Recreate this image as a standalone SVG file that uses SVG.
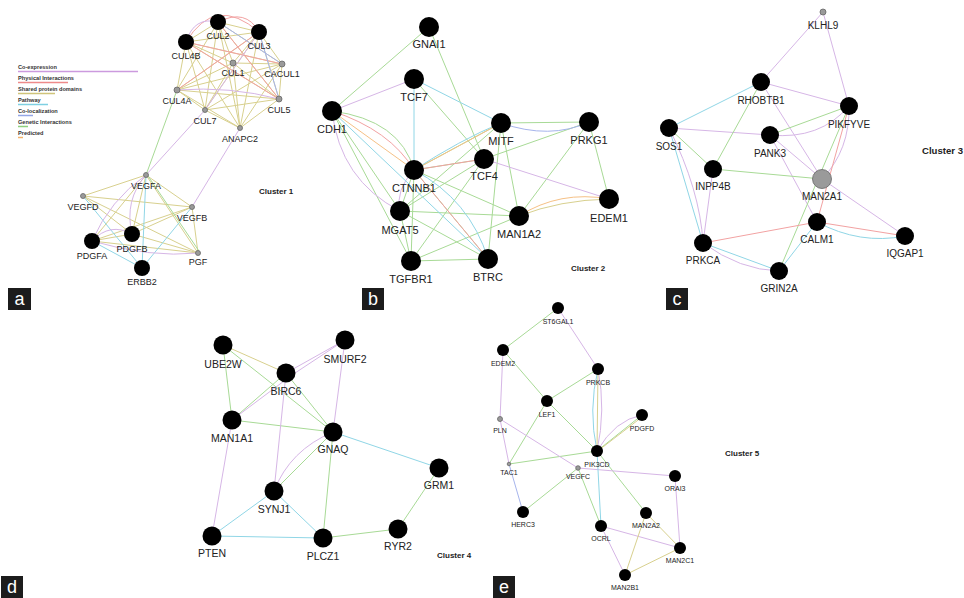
<svg xmlns="http://www.w3.org/2000/svg" width="964" height="598" viewBox="0 0 964 598">
<style>
.e{fill:none;stroke-width:1}
.co{stroke:#d6b6e6}.ph{stroke:#f2a2a2}.sd{stroke:#d8d08e}.pw{stroke:#90d6e6}.cl{stroke:#a6b4ec}.gi{stroke:#a8da96}.pr{stroke:#f6c186}
.nb{fill:#000}
.ng{fill:#9a9a9a;stroke:#666;stroke-width:0.8}
.la{font-family:"Liberation Sans",Arial,sans-serif;fill:#222;text-anchor:middle}
.fa{font-size:9px}.fb{font-size:11px}.fc{font-size:10px}.fd{font-size:10.5px}.fe{font-size:7px}
.cl-t{font-family:"Liberation Sans",Arial,sans-serif;font-weight:bold;font-size:8px;fill:#222}
.lg{font-family:"Liberation Sans",Arial,sans-serif;font-weight:bold;font-size:5.6px;fill:#333}
.box{fill:#1c1c1c}
.bt{font-family:"Liberation Sans",Arial,sans-serif;font-size:18px;fill:#fff;text-anchor:middle}
</style>
<rect width="964" height="598" fill="#fff"/>
<g id="legend">
<text class="lg" x="18" y="69">Co-expression</text><line x1="18" y1="71.5" x2="138" y2="71.5" stroke="#cc9ade" stroke-width="1.5"/>
<text class="lg" x="18" y="80">Physical Interactions</text><line x1="18" y1="82.5" x2="68" y2="82.5" stroke="#ee8a8a" stroke-width="1.5"/>
<text class="lg" x="18" y="91">Shared protein domains</text><line x1="18" y1="93.5" x2="55" y2="93.5" stroke="#cfc47a" stroke-width="1.5"/>
<text class="lg" x="18" y="102">Pathway</text><line x1="18" y1="104.5" x2="48" y2="104.5" stroke="#7fd0e2" stroke-width="1.5"/>
<text class="lg" x="18" y="113">Co-localization</text><line x1="18" y1="115.5" x2="33" y2="115.5" stroke="#94a6e6" stroke-width="1.5"/>
<text class="lg" x="18" y="124">Genetic Interactions</text><line x1="18" y1="126.5" x2="28" y2="126.5" stroke="#8fd07e" stroke-width="1.5"/>
<text class="lg" x="18" y="135">Predicted</text><line x1="18" y1="137.5" x2="23" y2="137.5" stroke="#f4b26a" stroke-width="1.5"/>
</g>
<g id="connectors">
<!-- panel a -->
<path class="e sd" d="M218,22L259,32M218,22L186,42M218,22L233,63M218,22L282,64M218,22L177,90M218,22L279,99M218,22L205,110M218,22L240,128M259,32L186,42M259,32L233,63M259,32L282,64M259,32L177,90M259,32L279,99M259,32L205,110M259,32L240,128M186,42L233,63M186,42L282,64M186,42L177,90M186,42L279,99M186,42L205,110M186,42L240,128M233,63L282,64M233,63L177,90M233,63L279,99M233,63L205,110M233,63L240,128M282,64L177,90M282,64L279,99M282,64L205,110M282,64L240,128M177,90L279,99M177,90L205,110M177,90L240,128M279,99L205,110M279,99L240,128M205,110L240,128"/>
<path class="e ph" d="M186,42Q215,-6 259,32M218,22Q246,8 259,32M186,42L279,99M218,22L279,99M177,90L259,32M186,42L282,64"/>
<path class="e co" d="M186,42Q194,16 218,22M177,90Q230,86 279,99M259,32L205,110M205,110L146,175M240,128L192,207"/>
<path class="e cl" d="M259,32L279,99M218,22L282,64"/>
<path class="e gi" d="M177,90L146,175"/>
<path class="e sd" d="M146,175L83,196M146,175L192,207M146,175L92,241M146,175L132,234M146,175L198,253M83,196L192,207M83,196L198,253M83,196L132,234M192,207L92,241M192,207L132,234M192,207L198,253M92,241L198,253M132,234L198,253M92,241L132,234"/>
<path class="e pw" d="M83,196L142,268M146,175L142,268M192,207L142,268M92,241L142,268"/>
<path class="e gi" d="M148,176L199,251"/>
<path class="e co" d="M146,175Q110,200 92,241M146,175Q124,200 132,234M92,241Q110,222 132,234M92,241Q150,258 198,253"/>
<!-- panel b -->
<path class="e gi" d="M332,111L429,27M429,27L484,159M414,79L484,159M501,123L589,122M589,122L484,159M589,122L519,216M589,122L609,199M332,111L400,211M332,111L411,261M414,170L484,159M414,170L519,216M414,170L488,259M414,170L400,211M414,170L411,261M400,211L519,216M400,211L484,159M400,211L411,261M400,211L488,259M411,261L519,216M411,261L488,259M411,261L484,159M501,123L519,216M501,123L488,259M501,123L400,211M414,170L501,123"/>
<path class="e gi" d="M332,111Q400,120 414,170"/>
<path class="e co" d="M332,111L414,79M484,159L609,199M332,111Q340,180 400,211M414,170Q395,190 400,211"/>
<path class="e pw" d="M414,79L501,123M414,79L414,170M332,111L488,259M414,170Q460,140 501,123M414,170Q470,200 488,259"/>
<path class="e cl" d="M501,123Q550,140 589,122"/>
<path class="e ph" d="M332,111Q390,130 414,170M414,170L484,159M414,170L488,259"/>
<path class="e pr" d="M332,111L414,170M414,170Q470,140 501,123M519,216Q560,190 609,199"/>
<path class="e sd" d="M519,216Q560,200 609,199"/>
<!-- panel c -->
<path class="e co" d="M823,12L761,82M823,12L849,106M761,82L849,106M761,82L822,179M770,135L817,222M770,135L822,179M669,128L770,135M770,135Q820,140 849,106M713,169L703,243M849,106Q850,150 822,179M822,179L905,236M669,128Q700,190 703,243M703,243Q740,270 779,271"/>
<path class="e pw" d="M761,82L669,128M669,128L703,243M817,222L779,271M703,243L779,271M817,222Q860,245 905,236"/>
<path class="e gi" d="M761,82L713,169M770,135L849,106M669,128L713,169M713,169L822,179M849,106L779,271"/>
<path class="e ph" d="M849,106L817,222M817,222L703,243M817,222L905,236"/>
<!-- panel d -->
<path class="e sd" d="M223,345L286,373"/>
<path class="e gi" d="M223,345L232,420M223,345L333,432M286,373L232,420M286,373L333,432M232,420L333,432M333,432L274,491M333,432L323,538M439,468L398,529M398,529L323,538"/>
<path class="e co" d="M345,340L286,373M345,340L289,377M345,340L333,432M232,420L288,378M286,373L274,491M232,420L212,536M333,432Q290,450 274,491"/>
<path class="e pw" d="M333,432L439,468M274,491L212,536M274,491L323,538M212,536L323,538"/>
<!-- panel e -->
<path class="e gi" d="M558,308L503,350M503,350L547,401M598,369L547,401M547,401L597,451M547,401L509,464M509,464L597,451M578,468L523,512M578,468L601,526M597,451L646,513M597,451L642,415"/>
<path class="e co" d="M558,308L598,369M503,350L500,419M500,419L578,468M578,468L675,476M601,526L680,548M601,526L625,575M675,476L680,548M500,419L509,464M598,369Q606,410 597,451M597,451Q615,420 642,415"/>
<path class="e pw" d="M598,369Q588,410 597,451M597,451L601,526"/>
<path class="e sd" d="M598,369L597,451M646,513L680,548M646,513L625,575M625,575L680,548M599,450L642,417"/>
<path class="e cl" d="M509,464L523,512"/>
</g>
<g id="nodes-a">
<g id="n-CUL2"><circle class="nb" cx="218" cy="22" r="8"/><text class="la fa" x="218" y="39">CUL2</text></g>
<g id="n-CUL3"><circle class="nb" cx="259" cy="32" r="8"/><text class="la fa" x="259" y="49">CUL3</text></g>
<g id="n-CUL4B"><circle class="nb" cx="186" cy="42" r="8"/><text class="la fa" x="186" y="59">CUL4B</text></g>
<g id="n-CUL1"><circle class="ng" cx="233" cy="63" r="3"/><text class="la fa" x="233" y="76">CUL1</text></g>
<g id="n-CACUL1"><circle class="ng" cx="282" cy="64" r="3"/><text class="la fa" x="282" y="77">CACUL1</text></g>
<g id="n-CUL4A"><circle class="ng" cx="177" cy="90" r="3"/><text class="la fa" x="177" y="104">CUL4A</text></g>
<g id="n-CUL5"><circle class="ng" cx="279" cy="99" r="3"/><text class="la fa" x="279" y="113">CUL5</text></g>
<g id="n-CUL7"><circle class="ng" cx="205" cy="110" r="2.5"/><text class="la fa" x="205" y="124">CUL7</text></g>
<g id="n-ANAPC2"><circle class="ng" cx="240" cy="128" r="2.5"/><text class="la fa" x="240" y="142">ANAPC2</text></g>
<g id="n-VEGFA"><circle class="ng" cx="146" cy="175" r="2.5"/><text class="la fa" x="146" y="189">VEGFA</text></g>
<g id="n-VEGFD"><circle class="ng" cx="83" cy="196" r="2.5"/><text class="la fa" x="83" y="210">VEGFD</text></g>
<g id="n-VEGFB"><circle class="ng" cx="192" cy="207" r="2.5"/><text class="la fa" x="192" y="221">VEGFB</text></g>
<g id="n-PDGFB"><circle class="nb" cx="132" cy="234" r="8"/><text class="la fa" x="132" y="252">PDGFB</text></g>
<g id="n-PDGFA"><circle class="nb" cx="92" cy="241" r="8"/><text class="la fa" x="92" y="259">PDGFA</text></g>
<g id="n-PGF"><circle class="ng" cx="198" cy="253" r="2.5"/><text class="la fa" x="198" y="265">PGF</text></g>
<g id="n-ERBB2"><circle class="nb" cx="142" cy="268" r="8"/><text class="la fa" x="142" y="285">ERBB2</text></g>
</g>
<g id="nodes-b">
<g id="n-GNAI1"><circle class="nb" cx="429" cy="27" r="10"/><text class="la fb" x="429" y="48">GNAI1</text></g>
<g id="n-TCF7"><circle class="nb" cx="414" cy="79" r="10"/><text class="la fb" x="414" y="101">TCF7</text></g>
<g id="n-CDH1"><circle class="nb" cx="332" cy="111" r="10"/><text class="la fb" x="332" y="133">CDH1</text></g>
<g id="n-MITF"><circle class="nb" cx="501" cy="123" r="10"/><text class="la fb" x="501" y="145">MITF</text></g>
<g id="n-PRKG1"><circle class="nb" cx="589" cy="122" r="10"/><text class="la fb" x="589" y="144">PRKG1</text></g>
<g id="n-TCF4"><circle class="nb" cx="484" cy="159" r="10"/><text class="la fb" x="484" y="180">TCF4</text></g>
<g id="n-CTNNB1"><circle class="nb" cx="414" cy="170" r="10"/><text class="la fb" x="414" y="192">CTNNB1</text></g>
<g id="n-MGAT5"><circle class="nb" cx="400" cy="211" r="10"/><text class="la fb" x="400" y="234">MGAT5</text></g>
<g id="n-MAN1A2"><circle class="nb" cx="519" cy="216" r="10"/><text class="la fb" x="519" y="238">MAN1A2</text></g>
<g id="n-EDEM1"><circle class="nb" cx="609" cy="199" r="10"/><text class="la fb" x="609" y="222">EDEM1</text></g>
<g id="n-TGFBR1"><circle class="nb" cx="411" cy="261" r="10"/><text class="la fb" x="411" y="283">TGFBR1</text></g>
<g id="n-BTRC"><circle class="nb" cx="488" cy="259" r="10"/><text class="la fb" x="488" y="281">BTRC</text></g>
</g>
<g id="nodes-c">
<g id="n-KLHL9"><circle class="ng" cx="823" cy="12" r="3"/><text class="la fc" x="823" y="28.5">KLHL9</text></g>
<g id="n-RHOBTB1"><circle class="nb" cx="761" cy="82" r="9"/><text class="la fc" x="761" y="103.5">RHOBTB1</text></g>
<g id="n-PIKFYVE"><circle class="nb" cx="849" cy="106" r="9"/><text class="la fc" x="849" y="127.5">PIKFYVE</text></g>
<g id="n-SOS1"><circle class="nb" cx="669" cy="128" r="9"/><text class="la fc" x="669" y="149.5">SOS1</text></g>
<g id="n-PANK3"><circle class="nb" cx="770" cy="135" r="9"/><text class="la fc" x="770" y="156.5">PANK3</text></g>
<g id="n-INPP4B"><circle class="nb" cx="713" cy="169" r="9"/><text class="la fc" x="713" y="189.5">INPP4B</text></g>
<g id="n-MAN2A1"><circle class="ng" cx="822" cy="179" r="9.5"/><text class="la fc" x="822" y="199.5">MAN2A1</text></g>
<g id="n-CALM1"><circle class="nb" cx="817" cy="222" r="9"/><text class="la fc" x="817" y="242.5">CALM1</text></g>
<g id="n-IQGAP1"><circle class="nb" cx="905" cy="236" r="9"/><text class="la fc" x="905" y="256.5">IQGAP1</text></g>
<g id="n-PRKCA"><circle class="nb" cx="703" cy="243" r="9"/><text class="la fc" x="703" y="263.5">PRKCA</text></g>
<g id="n-GRIN2A"><circle class="nb" cx="779" cy="271" r="9"/><text class="la fc" x="779" y="291.5">GRIN2A</text></g>
</g>
<g id="nodes-d">
<g id="n-UBE2W"><circle class="nb" cx="223" cy="345" r="9.5"/><text class="la fd" x="223" y="368">UBE2W</text></g>
<g id="n-SMURF2"><circle class="nb" cx="345" cy="340" r="9.5"/><text class="la fd" x="345" y="363">SMURF2</text></g>
<g id="n-BIRC6"><circle class="nb" cx="286" cy="373" r="9.5"/><text class="la fd" x="286" y="395">BIRC6</text></g>
<g id="n-MAN1A1"><circle class="nb" cx="232" cy="420" r="9.5"/><text class="la fd" x="232" y="442">MAN1A1</text></g>
<g id="n-GNAQ"><circle class="nb" cx="333" cy="432" r="9.5"/><text class="la fd" x="333" y="453">GNAQ</text></g>
<g id="n-GRM1"><circle class="nb" cx="439" cy="468" r="9.5"/><text class="la fd" x="439" y="489">GRM1</text></g>
<g id="n-SYNJ1"><circle class="nb" cx="274" cy="491" r="9.5"/><text class="la fd" x="274" y="513">SYNJ1</text></g>
<g id="n-PTEN"><circle class="nb" cx="212" cy="536" r="9.5"/><text class="la fd" x="212" y="557">PTEN</text></g>
<g id="n-PLCZ1"><circle class="nb" cx="323" cy="538" r="9.5"/><text class="la fd" x="323" y="560">PLCZ1</text></g>
<g id="n-RYR2"><circle class="nb" cx="398" cy="529" r="9.5"/><text class="la fd" x="398" y="550">RYR2</text></g>
</g>
<g id="nodes-e">
<g id="n-ST6GAL1"><circle class="nb" cx="558" cy="308" r="6"/><text class="la fe" x="558" y="323.5">ST6GAL1</text></g>
<g id="n-EDEM2"><circle class="nb" cx="503" cy="350" r="6"/><text class="la fe" x="503" y="365.5">EDEM2</text></g>
<g id="n-PRKCB"><circle class="nb" cx="598" cy="369" r="6"/><text class="la fe" x="598" y="384.5">PRKCB</text></g>
<g id="n-LEF1"><circle class="nb" cx="547" cy="401" r="6"/><text class="la fe" x="547" y="416.5">LEF1</text></g>
<g id="n-PLN"><circle class="ng" cx="500" cy="419" r="2.5"/><text class="la fe" x="500" y="432.5">PLN</text></g>
<g id="n-PDGFD"><circle class="nb" cx="642" cy="415" r="6"/><text class="la fe" x="642" y="430.5">PDGFD</text></g>
<g id="n-PIK3CD"><circle class="nb" cx="597" cy="451" r="6"/><text class="la fe" x="597" y="466.5">PIK3CD</text></g>
<g id="n-TAC1"><circle class="ng" cx="509" cy="464" r="1.8"/><text class="la fe" x="509" y="474.5">TAC1</text></g>
<g id="n-VEGFC"><circle class="ng" cx="578" cy="468" r="2.3"/><text class="la fe" x="578" y="478.5">VEGFC</text></g>
<g id="n-ORAI3"><circle class="nb" cx="675" cy="476" r="6"/><text class="la fe" x="675" y="490.5">ORAI3</text></g>
<g id="n-HERC3"><circle class="nb" cx="523" cy="512" r="6"/><text class="la fe" x="523" y="526.5">HERC3</text></g>
<g id="n-MAN2A2"><circle class="nb" cx="646" cy="513" r="6"/><text class="la fe" x="646" y="527.5">MAN2A2</text></g>
<g id="n-OCRL"><circle class="nb" cx="601" cy="526" r="6"/><text class="la fe" x="601" y="540.5">OCRL</text></g>
<g id="n-MAN2C1"><circle class="nb" cx="680" cy="548" r="6"/><text class="la fe" x="680" y="562.5">MAN2C1</text></g>
<g id="n-MAN2B1"><circle class="nb" cx="625" cy="575" r="6"/><text class="la fe" x="625" y="589.5">MAN2B1</text></g>
</g>
<g id="cluster-labels">
<text class="cl-t" x="259" y="194">Cluster 1</text>
<text class="cl-t" x="571" y="271">Cluster 2</text>
<text class="cl-t" x="922" y="154" style="font-size:9.6px">Cluster 3</text>
<text class="cl-t" x="437" y="558">Cluster 4</text>
<text class="cl-t" x="725" y="456">Cluster 5</text>
</g>
<g id="panel-letters">
<rect class="box" x="8" y="288" width="23" height="22"/><text class="bt" x="19.5" y="305">a</text>
<rect class="box" x="362" y="288" width="22" height="22"/><text class="bt" x="373" y="305">b</text>
<rect class="box" x="666" y="288" width="22" height="22"/><text class="bt" x="677" y="305">c</text>
<rect class="box" x="1" y="576" width="22" height="22"/><text class="bt" x="12" y="593">d</text>
<rect class="box" x="493" y="576" width="22" height="22"/><text class="bt" x="504" y="593">e</text>
</g>
</svg>
